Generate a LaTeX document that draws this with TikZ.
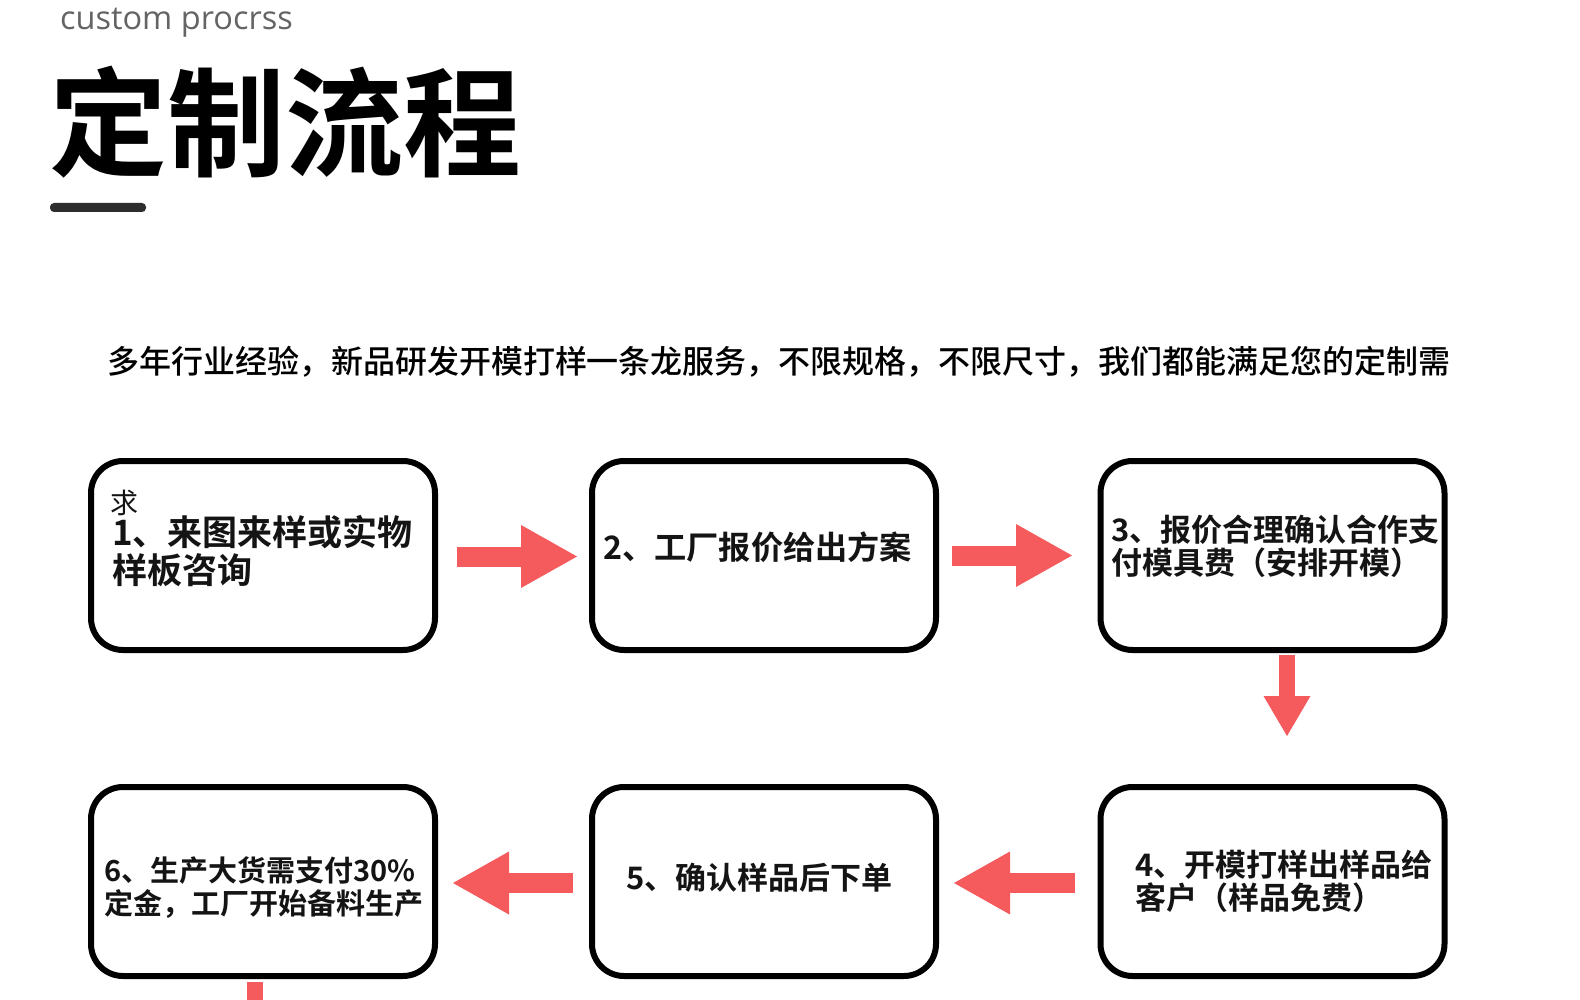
\documentclass[tikz,border=0pt]{standalone}
\usepackage{fontspec}
\newfontfamily\cjk{Noto Sans CJK SC}
\newfontfamily\cjkmed{Noto Sans CJK SC Medium}
\newfontfamily\cjkbold{Noto Sans CJK SC Bold}
\newfontfamily\latinsans{Open Sans}
\usetikzlibrary{arrows.meta,calc}
\definecolor{arrowred}{RGB}{245,90,92}
\definecolor{ink}{RGB}{20,20,20}
\definecolor{subgray}{RGB}{100,100,100}
\definecolor{barcol}{RGB}{45,45,45}
\tikzset{
  box/.style={draw=black, line width=6pt, rounded corners=32pt,
    minimum width=344pt, minimum height=189pt, inner sep=0pt},
  boxtext/.style={inner sep=0pt, anchor=west, align=left, text=ink},
  flowarrow/.style={draw=arrowred, line width=20pt,
    -{Triangle[length=56pt 0 0, width=63pt 0 0, line width=0pt 0 0]}},
  downarrow/.style={draw=arrowred, line width=16pt,
    -{Triangle[length=40pt 0 0, width=47pt 0 0, line width=0pt 0 0]}},
  stubarrow/.style={draw=arrowred, line width=16pt}
}
\begin{document}
\begin{tikzpicture}[x=1pt,y=-1pt]
\fill[white] (0,0) rectangle (1580,1000);
\useasboundingbox (0,0) rectangle (1580,1000);

% header
\node[anchor=base west, inner sep=0pt, text=subgray,
  font=\latinsans\fontsize{32.5}{36}\selectfont] (en) at (60,30) {custom procrss};
\node[inner sep=0pt, text=black,
  font=\cjkbold\fontsize{118}{130}\selectfont] (title) at (285.5,122.5) {定制流程};
\node[fill=barcol, rounded corners=4pt, minimum width=96pt, minimum height=9pt,
  inner sep=0pt] (bar) at (98,207.5) {};
\node[inner sep=0pt, text=black,
  font=\cjkmed\fontsize{32}{36}\selectfont] (sub) at (779,361.5)
  {多年行业经验，新品研发开模打样一条龙服务，不限规格，不限尺寸，我们都能满足您的定制需};

% boxes
\node[box] (b1) at (263,555.5) {};
\node[box] (b2) at (764,555.5) {};
\node[box] (b3) at (1272.5,555.5) {};
\node[box] (b6) at (263,881.5) {};
\node[box] (b5) at (764,881.5) {};
\node[box] (b4) at (1272.5,881.5) {};

% box texts
\node[inner sep=0pt, text=ink, font=\cjk\fontsize{28}{30}\selectfont] (stray) at (124,503) {求};
\node[boxtext, font=\cjkbold\fontsize{35}{38}\selectfont] (t1) at (112,551)
  {1、来图来样或实物\\样板咨询};
\node[boxtext, font=\cjkbold\fontsize{32.2}{36}\selectfont] (t2) at (603,547)
  {2、工厂报价给出方案};
\node[boxtext, font=\cjkbold\fontsize{31}{33}\selectfont] (t3) at (1111,546.5)
  {3、报价合理确认合作支\\付模具费（安排开模）};
\node[boxtext, font=\cjkbold\fontsize{31}{33}\selectfont] (t4) at (1135,881.5)
  {4、开模打样出样品给\\客户（样品免费）};
\node[boxtext, font=\cjkbold\fontsize{31}{34}\selectfont] (t5) at (626,878)
  {5、确认样品后下单};
\node[boxtext, font=\cjkbold\fontsize{29}{33}\selectfont] (t6) at (104,887.5)
  {6、生产大货需支付30\%\\定金，工厂开始备料生产};

% connectors
\draw[flowarrow] ([xshift=19pt,yshift=-1pt]b1.east) -- ([xshift=-12pt,yshift=-1pt]b2.west);
\draw[flowarrow] ([xshift=13pt,yshift=0pt]b2.east) -- ([xshift=-25.5pt,yshift=0pt]b3.west);
\draw[downarrow] ([xshift=14.5pt,yshift=-2pt]b3.south) -- ([xshift=14.5pt,yshift=48pt]b4.north);
\draw[flowarrow] ([xshift=-22.5pt,yshift=-1.5pt]b4.west) -- ([xshift=15pt,yshift=-1.5pt]b5.east);
\draw[flowarrow] ([xshift=-16pt,yshift=-1.5pt]b5.west) -- ([xshift=15pt,yshift=-1.5pt]b6.east);
\coordinate (pagebottom) at (255,1000);
\draw[stubarrow] ([xshift=-8pt,yshift=-3pt]b6.south) -- (pagebottom);
\end{tikzpicture}
\end{document}
